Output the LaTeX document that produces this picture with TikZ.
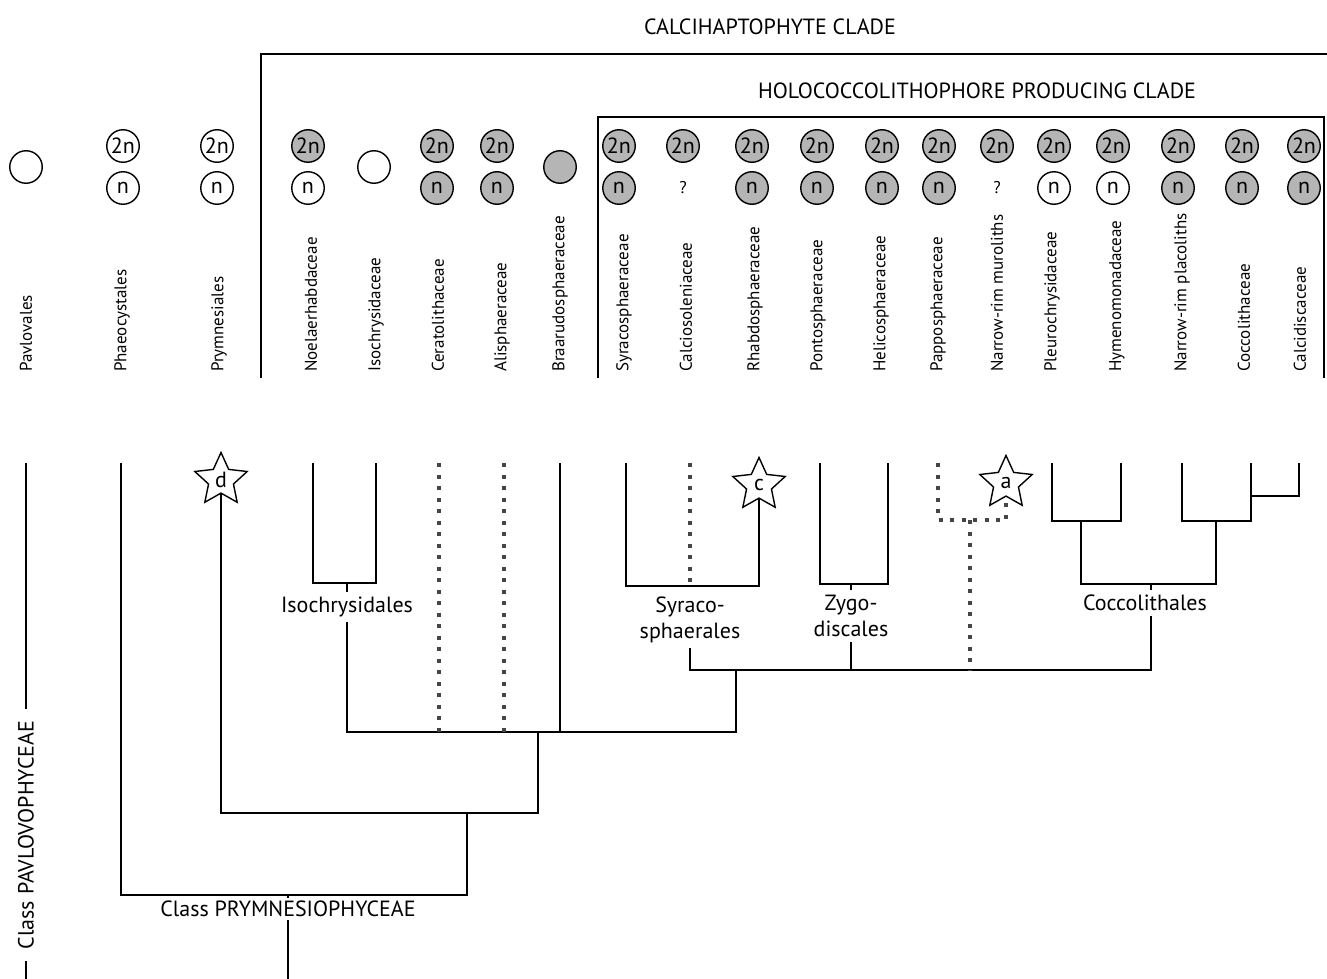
\documentclass[tikz,border=0pt]{standalone}
\usepackage{fontspec}
\setmainfont{PT Sans}
\usetikzlibrary{positioning,shapes.geometric}
\definecolor{hapGris}{HTML}{B5B5B5}
\definecolor{hapPunteado}{HTML}{454545}

\begin{document}
\begin{tikzpicture}[x=1pt, y=-1pt,
      every node/.style={font=\fontsize{22}{26}\selectfont},
      taxon/.style={rotate=90, anchor=west, inner sep=0pt,
                    font=\fontsize{17}{20}\selectfont},
      ploidy/.style={circle, draw, line width=1.4pt, minimum size=32.5pt,
                     inner sep=0pt, fill=white},
      marca/.style={star, star points=5, star point ratio=2.1, draw,
                    line width=1.4pt, fill=white, minimum size=55pt, inner sep=0pt},
      rama/.style={line width=1.6pt},
      incierta/.style={line width=3.2pt, draw=hapPunteado, dash pattern=on 4pt off 7.5pt},
      orden/.style={fill=white, align=center, inner sep=5pt}]
    \useasboundingbox (0,0) rectangle (1327,979);

    % clades
    \node (calci) at (770,27) {CALCIHAPTOPHYTE CLADE};
    \node (holo)  at (977,91) {HOLOCOCCOLITHOPHORE PRODUCING CLADE};
    \draw[rama] (261,378) |- (1327,54);
    \draw[rama] (598,378) |- (1324,117) -- (1324,378);

    % taxa: label x / branch x
    \foreach \n/\x/\t/\txt in {pav/26/26/Pavlovales, pha/122/121/Phaeocystales,
        pry/219/221/Prymnesiales, noe/311/313/Noelaerhabdaceae,
        iso/376/376/Isochrysidaceae, cer/438/439/Ceratolithaceae,
        ali/502/504/Alisphaeraceae, bra/560/560/Braarudosphaeraceae,
        syr/624/626/Syracosphaeraceae, cal/686/690/Calciosoleniaceae,
        rha/755/759/Rhabdosphaeraceae, pon/818/820/Pontosphaeraceae,
        hel/881/888/Helicosphaeraceae, pap/938/938/Papposphaeraceae,
        mur/997/1006/Narrow-rim muroliths, ple/1052/1052/Pleurochrysidaceae,
        hym/1117/1121/Hymenomonadaceae, pla/1182/1182/Narrow-rim placoliths,
        coc/1244/1251/Coccolithaceae, cdi/1300/1299/Calcidiscaceae}{
      \node[taxon] (\n-lab) at (\x,372) {\txt};
      \coordinate (\n) at (\t,463);
    }

    % life cycle phases
    \foreach \x/\fa/\fb in {123/white/white, 217/white/white, 308/hapGris/white,
        437/hapGris/hapGris, 497/hapGris/hapGris, 619/hapGris/hapGris,
        752/hapGris/hapGris, 817/hapGris/hapGris, 882/hapGris/hapGris,
        939/hapGris/hapGris, 1054/hapGris/white, 1113/hapGris/white,
        1178/hapGris/hapGris, 1242/hapGris/hapGris, 1304/hapGris/hapGris}{
      \node[ploidy, fill=\fa] (dip\x) at (\x,146) {2n};
      \node[ploidy, fill=\fb] (hap\x) at (\x,188) {n};
    }
    \node[ploidy, fill=hapGris] (dip683) at (683,146) {2n};
    \node[font=\fontsize{17}{20}\selectfont] (hap683) at (683,188) {?};
    \node[ploidy, fill=hapGris] (dip997) at (997,146) {2n};
    \node[font=\fontsize{17}{20}\selectfont] (hap997) at (997,188) {?};
    \node[ploidy] (pav-c) at (26,167) {};
    \node[ploidy] (iso-c) at (374,167) {};
    \node[ploidy, fill=hapGris] (bra-c) at (560,167) {};

    % stars
    \node[marca] (stard) at (221,480) {d};
    \node[marca] (starc) at (759,485) {c};
    \node[marca] (stara) at (1006,483) {a};

    % order and class labels
    \node[orden] (isolab) at (347,607) {Isochrysidales};
    \node[orden] (syrlab) at (690,620) {Syraco-\\sphaerales};
    \node[orden] (zyglab) at (851,616) {Zygo-\\discales};
    \node[orden] (coclab) at (1145,603) {Coccolithales};
    \node[orden, inner sep=3pt] (prymcl) at (288,909) {Class PRYMNESIOPHYCEAE};
    \node[orden, rotate=90, inner sep=12pt] (pavcl) at (26,835) {Class PAVLOVOPHYCEAE};

    % junctions
    \coordinate (nprym) at (288,895);
    \coordinate (nhapt) at (467,813);
    \coordinate (ncalci) at (538,732);
    \coordinate (nholo) at (736,670);
    \coordinate (niso) at (347,583);
    \coordinate (nsyr) at (690,586);
    \coordinate (nzyg) at (851,584);
    \coordinate (nmur) at (970,520);
    \coordinate (npl) at (1081,521);
    \coordinate (npc) at (1216,521);
    \coordinate (ncc) at (1251,496);
    \coordinate (ncoc) at (1151,584);
    \coordinate (pavend) at (26,979);
    \coordinate (prymend) at (288,979);

    % tree
    \draw[rama] (pav) -- (pavcl.east);
    \draw[rama] (pavcl.west) -- (pavend);
    \draw[rama] (pha) |- (nprym) -| (nhapt);
    \draw[rama] (nprym) -- (prymcl.north);
    \draw[rama] (prymcl.south) -- (prymend);
    \draw[rama] (stard.south) |- (nhapt) -| (ncalci);
    \draw[rama] (isolab.south) |- (ncalci) -| (nholo);
    \draw[rama] (bra) -- (bra |- ncalci);
    \draw[incierta] (cer) -- (cer |- ncalci);
    \draw[incierta] (ali) -- (ali |- ncalci);
    \draw[rama] (noe) |- (niso) -| (iso);
    \draw[rama] (niso) -- (isolab.north);
    \draw[rama] (syr) |- (nsyr) -| (starc.south);
    \draw[incierta] (cal) -- (nsyr);
    \draw[rama] (syrlab.south) |- (nholo) -| (ncoc |- coclab.south);
    \draw[rama] (pon) |- (nzyg) -| (hel);
    \draw[rama] (nzyg) -- (zyglab.north);
    \draw[rama] (zyglab.south) -- (zyglab.south |- nholo);
    \draw[incierta] (pap) |- (nmur) -| (stara.south);
    \draw[incierta] (nmur) -- (nmur |- nholo);
    \draw[rama] (ple) |- (npl) -| (hym);
    \draw[rama] (pla) |- (npc) -| (coc);
    \draw[rama] (cdi) |- (ncc);
    \draw[rama] (npl) |- (ncoc) -| (npc);
    \draw[rama] (ncoc) -- (ncoc |- coclab.north);
  \end{tikzpicture}
\end{document}
